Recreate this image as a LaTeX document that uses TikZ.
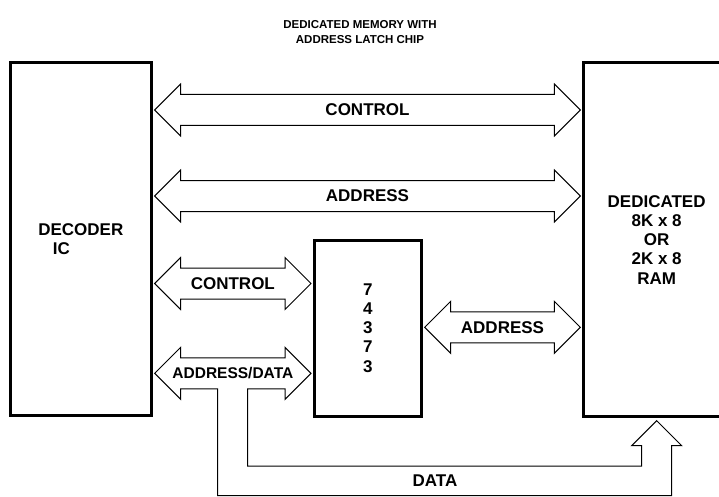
\documentclass[tikz,border=0pt]{standalone}
\usepackage{fontspec}
\setmainfont{Liberation Sans}
\usetikzlibrary{calc}

% fat hollow two-way arrow between two tip points
\newcommand{\busarrow}[2]{%
	\draw[bus] (#1) -- ++(26,-26) -- ++(0,10.5) -- ($(#2)+(-26,-15.5)$)
		-- ++(0,-10.5) -- (#2) -- ++(-26,26) -- ++(0,-10.5)
		-- ($(#1)+(26,15.5)$) -- ++(0,10.5) -- cycle;%
}

\begin{document}
\begin{tikzpicture}[
	x=1pt, y=-1pt,
	nodes = {
		align = center,
		font = \bfseries\fontsize{17}{19.2}\selectfont
	},
	box/.style={
		rectangle,
		draw=black,
		line width=3pt,
		inner sep=0pt
	},
	bus/.style={
		line width=1pt,
		line join=miter
	}
]
	\useasboundingbox (0,0) rectangle (719,497);

	\node[font=\bfseries\fontsize{11.5}{15.5}\selectfont] (title) at (360,32) {
		DEDICATED MEMORY WITH\\
		ADDRESS LATCH CHIP
	};

	\node[box, minimum width=141.7, minimum height=352.8] (decoder) at (80.85,239.1)
		{DECODER\\IC\hspace*{39pt}};

	\node[box, minimum width=107.7, minimum height=176] (latch) at (367.85,328) {
		7\\
		4\\
		3\\
		7\\
		3
	};

	\node[box, minimum width=146.7, minimum height=354] (ram) at (656.65,239.7) {
		DEDICATED\\
		8K x 8\\
		OR\\
		2K x 8\\
		RAM
	};
	%%
	\coordinate (ctla) at ($(decoder.east |- 0,110)+(1.5,0)$);
	\coordinate (ctlb) at ($(ram.west |- 0,110)+(-1.5,0)$);
	\coordinate (adra) at ($(decoder.east |- 0,196)+(1.5,0)$);
	\coordinate (adrb) at ($(ram.west |- 0,196)+(-1.5,0)$);
	\coordinate (lctla) at ($(decoder.east |- 0,283.5)+(1.5,0)$);
	\coordinate (lctlb) at ($(latch.west |- 0,283.5)+(-1.5,0)$);
	\coordinate (ladra) at ($(latch.east |- 0,327.3)+(1.5,0)$);
	\coordinate (ladrb) at ($(ram.west |- 0,327.3)+(-1.5,0)$);
	\coordinate (ada) at ($(decoder.east |- 0,373.3)+(1.5,0)$);
	\coordinate (adb) at ($(latch.west |- 0,373.3)+(-1.5,0)$);
	\coordinate (dtip) at ($(ram.south)+(0,2.5)$);

	\busarrow{ctla}{ctlb}
	\busarrow{adra}{adrb}
	\busarrow{lctla}{lctlb}
	\busarrow{ladra}{ladrb}

	% address/data bus, data split off to the ram
	\draw[bus] (ada) -- ++(26,-26) -- ++(0,10.5) -- ($(adb)+(-26,-15.5)$)
		-- ++(0,-10.5) -- (adb) -- ++(-26,26) -- ++(0,-10.5)
		-- (247.7,388.8) -- (247.7,466) -- ($(dtip)+(-15,45.3)$)
		-- ($(dtip)+(-15,25)$) -- ($(dtip)+(-25,25)$) -- (dtip)
		-- ($(dtip)+(25,25)$) -- ($(dtip)+(15,25)$) -- ($(dtip)+(15,75)$)
		-- (217.7,495.7) -- (217.7,388.8) -- ($(ada)+(26,15.5)$)
		-- ++(0,10.5) -- cycle;

	\node (lblctl) at ($(ctla)!0.5!(ctlb)$) {CONTROL};
	\node (lbladr) at ($(adra)!0.5!(adrb)$) {ADDRESS};
	\node (lbllctl) at ($(lctla)!0.5!(lctlb)$) {CONTROL};
	\node (lblladr) at ($(ladra)!0.5!(ladrb)$) {ADDRESS};
	\node[font=\bfseries\fontsize{15.5}{19}\selectfont] (lblad) at ($(ada)!0.5!(adb)$) {ADDRESS/DATA};
	\node (lbldata) at (435,481) {DATA};
\end{tikzpicture}
\end{document}
